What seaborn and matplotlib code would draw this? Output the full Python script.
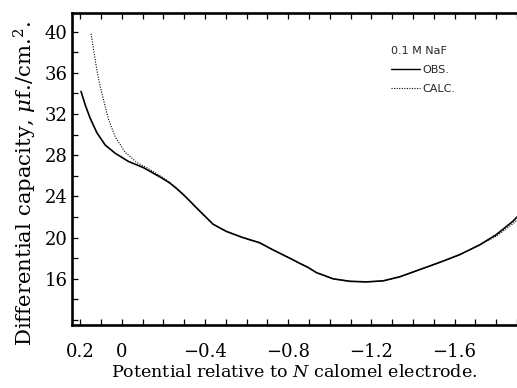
import matplotlib
matplotlib.use("Agg")
import matplotlib.pyplot as plt
import seaborn as sns
import pandas as pd
from matplotlib.lines import Line2D
from matplotlib.ticker import FixedLocator, MultipleLocator

# Data
obs_potential = [0.196, 0.176, 0.152, 0.120, 0.080, 0.032, -0.032, -0.104,
                 -0.192, -0.231, -0.256, -0.295, -0.320, -0.359, -0.439, -0.503,
                 -0.583, -0.663, -0.728, -0.808, -0.856, -0.896, -0.936, -1.016,
                 -1.096, -1.176, -1.256, -1.337, -1.433, -1.529, -1.625, -1.721,
                 -1.801, -1.881, -1.90]
obs_capacity = [34.2, 32.9, 31.6, 30.2, 29.0, 28.2, 27.4, 26.8,
                25.8, 25.3, 24.9, 24.2, 23.7, 22.9, 21.3, 20.6,
                20.0, 19.5, 18.8, 18.0, 17.5, 17.1, 16.6, 16.0,
                15.76, 15.7, 15.8, 16.2, 16.9, 17.6, 18.35, 19.3,
                20.3, 21.6, 22.0]

calc_potential = [0.148, 0.136, 0.120, 0.104, 0.088, 0.064, 0.032, -0.016, -0.072,
                  -0.128, -0.192, -0.231, -0.256, -0.295, -0.320, -0.359,
                  -0.439, -0.503, -0.583, -0.663, -0.728, -0.808, -0.856, -0.896,
                  -0.936, -1.016, -1.096, -1.176, -1.256, -1.337, -1.433, -1.529,
                  -1.625, -1.721, -1.801, -1.881, -1.90]
calc_capacity = [39.8, 38.3, 36.3, 34.7, 33.4, 31.5, 29.8, 28.3, 27.3,
                 26.7, 25.9, 25.35, 24.9, 24.2, 23.7, 22.9,
                 21.3, 20.6, 20.0, 19.5, 18.8, 18.0, 17.5, 17.1,
                 16.6, 16.0, 15.76, 15.7, 15.8, 16.2, 16.9, 17.6,
                 18.35, 19.3, 20.15, 21.35, 21.7]

xtick_values = [0.2, 0.0, -0.4, -0.8, -1.2, -1.6]
xtick_labels = ["0.2", "0", "\u22120.4", "\u22120.8", "\u22121.2", "\u22121.6"]
ytick_values = [16, 20, 24, 28, 32, 36, 40]

sns.set_theme(style="white")
plt.rcParams['font.family'] = ['DejaVu Serif']
plt.rcParams['mathtext.fontset'] = 'dejavuserif'

df_obs = pd.DataFrame({"potential": obs_potential, "capacity": obs_capacity})
df_calc = pd.DataFrame({"potential": calc_potential, "capacity": calc_capacity})

fig = plt.figure(figsize=(5.17, 3.88), dpi=100)
ax = fig.add_axes([0.139, 0.162, 0.861, 0.804])

sns.lineplot(data=df_calc, x="potential", y="capacity", ax=ax, color="black",
             linewidth=0.8, linestyle=(0, (1, 1.3)), sort=False, estimator=None)
sns.lineplot(data=df_obs, x="potential", y="capacity", ax=ax, color="black",
             linewidth=1.2, sort=False, estimator=None)

ax.set_xlim(0.24, -1.90)
ax.set_ylim(11.5, 41.8)

ax.xaxis.set_major_locator(FixedLocator(xtick_values))
ax.set_xticklabels(xtick_labels)
ax.xaxis.set_minor_locator(MultipleLocator(0.1))
ax.yaxis.set_major_locator(FixedLocator(ytick_values))
ax.yaxis.set_minor_locator(MultipleLocator(2))

ax.tick_params(axis='both', which='both', direction='in', top=True, bottom=True,
               left=True, right=False, length=4, width=0.9, color='black')
ax.tick_params(axis='x', which='major', labelsize=13, pad=13, colors='black')
ax.tick_params(axis='y', which='major', labelsize=13, pad=3, colors='black')

for side in ['left', 'bottom', 'top']:
    ax.spines[side].set_visible(True)
    ax.spines[side].set_linewidth(1.9)
    ax.spines[side].set_color('black')
ax.spines['right'].set_visible(False)

ax.set_xlabel("Potential relative to $N$ calomel electrode.", fontsize=12.6,
              color='black', labelpad=2)
ax.set_ylabel(r"Differential capacity, $\mu$f./cm.$^2$.", fontsize=15.3,
              color='black')
ax.yaxis.set_label_coords(-0.073, 0.455)

handles = [Line2D([], [], color='black', linewidth=1.0),
           Line2D([], [], color='black', linewidth=0.8, linestyle=(0, (1, 1.3)))]
leg = ax.legend(handles, ["OBS.", "CALC."], title="0.1 M NaF", frameon=False,
                loc='upper left', bbox_to_anchor=(0.703, 0.915),
                prop={'family': 'DejaVu Sans', 'size': 8},
                title_fontproperties={'family': 'DejaVu Sans', 'size': 8},
                handlelength=2.6, handletextpad=0.2, labelspacing=0.8,
                borderpad=0.1)
leg._legend_box.align = "left"

fig.savefig("out.png", dpi=100, facecolor='white')
